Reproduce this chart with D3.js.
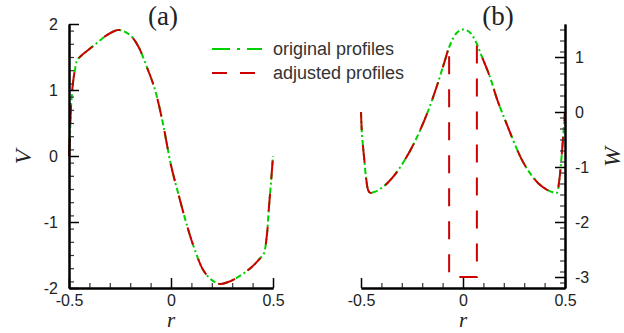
<!DOCTYPE html>
<html>
<head>
<meta charset="utf-8">
<script src="https://cdn.jsdelivr.net/npm/d3@7"></script>
<style>
    body { margin: 0; background: #fff; }
    svg { display: block; }
</style>
</head>
<body>
<div id="chart"></div>
<script>
// panel (a): V(r)
const rV = [-0.5, -0.495, -0.49, -0.48, -0.47, -0.46, -0.44, -0.40, -0.36, -0.32, -0.28, -0.26, -0.24, -0.20, -0.16, -0.12, -0.08, -0.04, 0.0, 0.04, 0.08, 0.12, 0.16, 0.20, 0.24, 0.28, 0.32, 0.36, 0.40, 0.44, 0.455, 0.47, 0.48, 0.49, 0.5];
const vOriginal = [0.0, 0.35, 0.75, 1.12, 1.32, 1.45, 1.52, 1.62, 1.72, 1.82, 1.89, 1.91, 1.90, 1.83, 1.66, 1.36, 1.02, 0.50, -0.14, -0.62, -1.07, -1.45, -1.74, -1.88, -1.94, -1.91, -1.85, -1.77, -1.67, -1.54, -1.48, -1.20, -0.78, -0.41, 0.0];
const vAdjusted = [0.0, 0.35, 0.75, 1.12, 1.32, 1.45, 1.52, 1.62, 1.72, 1.82, 1.89, 1.91, 1.90, 1.83, 1.66, 1.36, 1.02, 0.50, -0.14, -0.62, -1.07, -1.45, -1.74, -1.88, -1.94, -1.91, -1.85, -1.77, -1.67, -1.54, -1.48, -1.20, -0.78, -0.41, 0.0];

// panel (b): W(r)
const rW = [-0.5, -0.495, -0.485, -0.475, -0.465, -0.455, -0.44, -0.41, -0.37, -0.33, -0.29, -0.25, -0.21, -0.17, -0.13, -0.09, -0.06, -0.03, 0.0, 0.03, 0.06, 0.09, 0.13, 0.17, 0.21, 0.25, 0.29, 0.33, 0.37, 0.41, 0.44, 0.46, 0.47, 0.48, 0.49, 0.5];
const wOriginal = [0.0, -0.42, -0.82, -1.20, -1.42, -1.47, -1.46, -1.41, -1.29, -1.12, -0.90, -0.64, -0.33, 0.03, 0.45, 0.92, 1.25, 1.44, 1.50, 1.46, 1.30, 1.03, 0.66, 0.20, -0.18, -0.55, -0.88, -1.12, -1.30, -1.41, -1.46, -1.47, -1.30, -0.95, -0.50, 0.0];
// adjusted: outer parts follow the original, centre drops to -3 between r = -0.068 and 0.068
const rWAdjLeft = [-0.5, -0.495, -0.485, -0.475, -0.465, -0.455, -0.44, -0.41, -0.37, -0.33, -0.29, -0.25, -0.21, -0.17, -0.13, -0.09, -0.068];
const wAdjLeft = [0.0, -0.42, -0.82, -1.20, -1.42, -1.47, -1.46, -1.41, -1.29, -1.12, -0.90, -0.64, -0.33, 0.03, 0.45, 0.92, 1.20];
const rWAdjCore = [-0.068, -0.068, 0.068, 0.068];
const wAdjCore = [1.20, -3.0, -3.0, 1.22];
const rWAdjRight = [0.068, 0.09, 0.13, 0.17, 0.21, 0.25, 0.29, 0.33, 0.37, 0.41, 0.44, 0.46, 0.47, 0.48, 0.49, 0.5];
const wAdjRight = [1.22, 1.03, 0.66, 0.20, -0.18, -0.55, -0.88, -1.12, -1.30, -1.41, -1.46, -1.47, -1.30, -0.95, -0.50, 0.0];

const rTicks = [-0.5, 0, 0.5];
const rMinor = [-0.4, -0.3, -0.2, -0.1, 0.1, 0.2, 0.3, 0.4];
const vTicks = [-2, -1, 0, 1, 2];
const wTicks = [-3, -2, -1, 0, 1];
const seriesNames = ["original profiles", "adjusted profiles"];

function init() {
    const w = 624, h = 333;
    const top = 24, bottom = 288; // plot area, both panels
    const green = "#00d000", red = "#cc0000";
    const sans = "'Liberation Sans', Arial, Helvetica, sans-serif";
    const serif = "'Liberation Serif', 'Times New Roman', serif";

    const svg = d3.select("#chart").append("svg")
        .attr("width", w)
        .attr("height", h);

    const xA = d3.scaleLinear().domain([-0.5, 0.5]).range([69, 273]);
    const yA = d3.scaleLinear().domain([-2, 2]).range([bottom, top]);
    const xB = d3.scaleLinear().domain([-0.5, 0.5]).range([361, 565]);
    const yB = d3.scaleLinear().domain([-3.2, 1.6]).range([bottom, top]);

    // minor tick values every 0.2
    const vMinor = d3.range(-19, 20, 2).map(d => d / 10);
    const wMinor = d3.range(-31, 17, 2).map(d => d / 10);

    const smooth = d3.line().curve(d3.curveCatmullRom.alpha(0.5));
    const straight = d3.line();
    const pts = (xs, ys, rs, vs) => rs.map((r, i) => [xs(r), ys(vs[i])]);

    function drawPath(d, color, dash) {
        svg.append("path")
            .attr("d", d)
            .attr("fill", "none")
            .attr("stroke", color)
            .attr("stroke-width", 2)
            .attr("stroke-dasharray", dash);
    }

    // ---- curves (green under red)
    drawPath(smooth(pts(xA, yA, rV, vOriginal)), green, "6,3,2,3");
    drawPath(smooth(pts(xA, yA, rV, vAdjusted)), red, "18,15");
    drawPath(smooth(pts(xB, yB, rW, wOriginal)), green, "6,3,2,3");
    // one continuous path: smooth sides joined by straight centre
    const adjD = smooth(pts(xB, yB, rWAdjLeft, wAdjLeft))
        + straight(pts(xB, yB, rWAdjCore, wAdjCore)).replace(/^M/, "L")
        + smooth(pts(xB, yB, rWAdjRight, wAdjRight)).replace(/^M/, "L");
    drawPath(adjD, red, "18,15");

    function styleAxis(g) {
        g.select(".domain").attr("stroke", "#000").attr("stroke-width", 2);
        g.selectAll(".tick line").attr("stroke", "#000").attr("stroke-width", 1.5);
        g.selectAll(".tick text")
            .attr("fill", "#222")
            .style("font-family", sans)
            .style("font-size", "16px");
    }
    function minor(axis, vals) {
        return axis.tickValues(vals).tickSizeInner(-5).tickSizeOuter(0).tickFormat("");
    }
    function addAxis(transform, axis, isMinor) {
        const g = svg.append("g").attr("transform", transform).call(axis).call(styleAxis);
        if (isMinor) g.selectAll(".tick line").attr("stroke", "#333").attr("stroke-width", 1.2);
    }
    const fmt = d => String(d);

    // ---- panel (a) axes
    addAxis(`translate(0,${bottom})`, minor(d3.axisBottom(xA), rMinor), true);
    addAxis("translate(69,0)", minor(d3.axisLeft(yA), vMinor), true);
    addAxis(`translate(0,${bottom})`, d3.axisBottom(xA).tickValues(rTicks).tickSizeInner(-10).tickSizeOuter(0).tickPadding(7).tickFormat(fmt));
    addAxis("translate(69,0)", d3.axisLeft(yA).tickValues(vTicks).tickSizeInner(-10).tickSizeOuter(0).tickPadding(11).tickFormat(fmt));

    // ---- panel (b) axes
    addAxis(`translate(0,${bottom})`, minor(d3.axisBottom(xB), rMinor), true);
    addAxis("translate(565,0)", minor(d3.axisRight(yB), wMinor), true);
    addAxis(`translate(0,${bottom})`, d3.axisBottom(xB).tickValues(rTicks).tickSizeInner(-10).tickSizeOuter(0).tickPadding(7).tickFormat(fmt));
    addAxis("translate(565,0)", d3.axisRight(yB).tickValues(wTicks).tickSizeInner(-10).tickSizeOuter(0).tickPadding(10).tickFormat(fmt));

    // ---- titles and axis labels
    [["(a)", 163], ["(b)", 498]].forEach(([t, x]) => {
        svg.append("text").attr("x", x).attr("y", 25)
            .attr("text-anchor", "middle")
            .style("font-family", serif).style("font-size", "27px")
            .attr("fill", "#222").text(t);
    });
    [171, 463].forEach(x => {
        svg.append("text").attr("x", x).attr("y", 327)
            .attr("text-anchor", "middle")
            .style("font-family", serif).style("font-size", "21px").style("font-style", "italic")
            .attr("fill", "#222").text("r");
    });
    [["V", 31], ["W", 620]].forEach(([t, x]) => {
        svg.append("text")
            .attr("transform", `translate(${x},157) rotate(-90)`)
            .attr("text-anchor", "middle")
            .style("font-family", serif).style("font-size", "24px").style("font-style", "italic")
            .attr("fill", "#222").text(t);
    });

    // ---- legend
    const legend = svg.append("g").attr("transform", "translate(212,49)");
    const legendDash = ["18,7,3,7", "15,13"];
    [green, red].forEach((c, i) => {
        const row = legend.append("g").attr("transform", `translate(0,${i * 24})`);
        row.append("line")
            .attr("x1", 0).attr("x2", 50)
            .attr("stroke", c).attr("stroke-width", 2)
            .attr("stroke-dasharray", legendDash[i]);
        row.append("text")
            .attr("x", 61).attr("y", 6)
            .style("font-family", sans)
            .style("font-size", "18px")
            .attr("fill", "#333")
            .text(seriesNames[i]);
    });
}

window.onload = init;
</script>
</body>
</html>
